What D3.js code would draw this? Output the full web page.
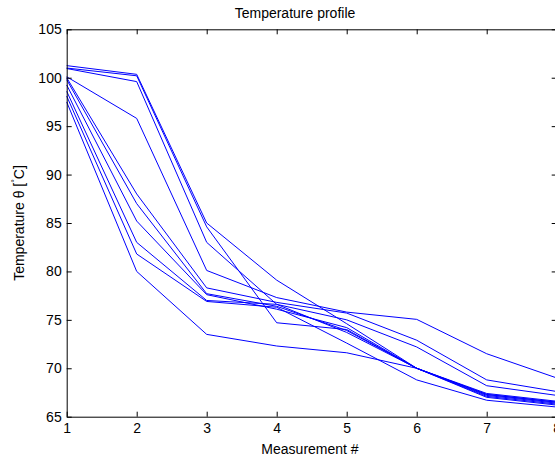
<!DOCTYPE html>
<html lang="en">
<head>
    <meta charset="UTF-8">
    <title>Temperature profile</title>
    <script src="https://cdn.jsdelivr.net/npm/d3@7/dist/d3.min.js"></script>
    <style>
        body { margin: 0; background: #fff; }
        text { font-family: "Liberation Sans", Arial, sans-serif; fill: #000; }
    </style>
</head>
<body>
    <svg id="svg"></svg>
    <script>
        // measurement index and one temperature profile per run
        const measurements = [1, 2, 3, 4, 5, 6, 7, 8];
        const run1  = [101.25, 100.35, 85.0, 79.1, 74.6, 70.0, 67.3, 66.5];
        const run2  = [101.0, 100.2, 84.6, 74.7, 74.0, 70.0, 67.2, 66.4];
        const run3  = [100.95, 99.6, 83.0, 76.6, 75.0, 72.2, 68.2, 67.2];
        const run4  = [100.1, 95.8, 80.1, 77.3, 75.8, 75.05, 71.5, 69.0];
        const run5  = [100.0, 88.0, 78.3, 76.8, 75.7, 72.9, 68.8, 67.6];
        const run6  = [99.8, 87.0, 77.7, 76.4, 73.9, 70.0, 67.4, 66.6];
        const run7  = [99.25, 85.2, 77.6, 76.1, 74.2, 70.0, 67.1, 66.3];
        const run8  = [98.6, 83.0, 77.0, 76.6, 73.7, 70.0, 67.0, 66.2];
        const run9  = [98.1, 81.8, 76.9, 76.3, 72.6, 68.8, 66.7, 66.0];
        const run10 = [97.5, 80.0, 73.5, 72.3, 71.6, 70.0, 67.3, 66.5];
        const runs = [run1, run2, run3, run4, run5, run6, run7, run8, run9, run10];
        const yTicks = [65, 70, 75, 80, 85, 90, 95, 100, 105];

        const width = 555;
        const height = 460;
        const plotLeft = 66.7, plotRight = 556.7, plotTop = 29.3, plotBottom = 416.7;

        const svg = d3.select("#svg")
            .attr("width", width)
            .attr("height", height);

        const x = d3.scaleLinear().domain([1, 8]).range([plotLeft, plotRight]);
        const y = d3.scaleLinear().domain([65, 105]).range([plotBottom, plotTop]);

        // data lines
        const line = d3.line()
            .x((d, i) => x(measurements[i]))
            .y(d => y(d));
        svg.append("g")
            .selectAll("path")
            .data(runs)
            .enter()
            .append("path")
            .attr("d", line)
            .attr("fill", "none")
            .attr("stroke", "#0000ff")
            .attr("stroke-width", 1);

        // axes, MATLAB style: ticks pointing inwards on all four sides
        const tick = 5;
        const axisStyle = g => {
            g.select(".domain").attr("stroke", "#000").attr("stroke-width", 1);
            g.selectAll(".tick line").attr("stroke", "#000");
            g.selectAll(".tick text").attr("font-size", 14)
                .attr("font-family", "Liberation Sans, Arial, sans-serif");
        };

        svg.append("g")
            .attr("transform", `translate(0,${plotBottom})`)
            .call(d3.axisBottom(x).tickValues(measurements).tickFormat(d3.format("d"))
                .tickSizeInner(-tick).tickSizeOuter(0).tickPadding(6))
            .call(axisStyle);
        svg.append("g")
            .attr("transform", `translate(0,${plotTop})`)
            .call(d3.axisTop(x).tickValues(measurements).tickSizeInner(-tick).tickSizeOuter(0).tickFormat(""))
            .call(axisStyle);
        svg.append("g")
            .attr("transform", `translate(${plotLeft},0)`)
            .call(d3.axisLeft(y).tickValues(yTicks).tickFormat(d3.format("d"))
                .tickSizeInner(-tick).tickSizeOuter(0).tickPadding(5))
            .call(axisStyle);
        svg.append("g")
            .attr("transform", `translate(${plotRight},0)`)
            .call(d3.axisRight(y).tickValues(yTicks).tickSizeInner(-tick).tickSizeOuter(0).tickFormat(""))
            .call(axisStyle);

        // titles
        svg.append("text")
            .attr("x", 295)
            .attr("y", 18)
            .attr("text-anchor", "middle")
            .attr("font-size", 14)
            .text("Temperature profile");

        svg.append("text")
            .attr("x", 310)
            .attr("y", 454)
            .attr("text-anchor", "middle")
            .attr("font-size", 14)
            .text("Measurement #");

        const yl = svg.append("text")
            .attr("transform", `translate(24,${(plotTop + plotBottom) / 2}) rotate(-90)`)
            .attr("text-anchor", "middle")
            .attr("font-size", 14);
        yl.append("tspan").text("Temperature \u03b8 [");
        yl.append("tspan").attr("font-size", 9).attr("dy", -6).text("\u00b0");
        yl.append("tspan").attr("dy", 6).text("C]");
    </script>
</body>
</html>
